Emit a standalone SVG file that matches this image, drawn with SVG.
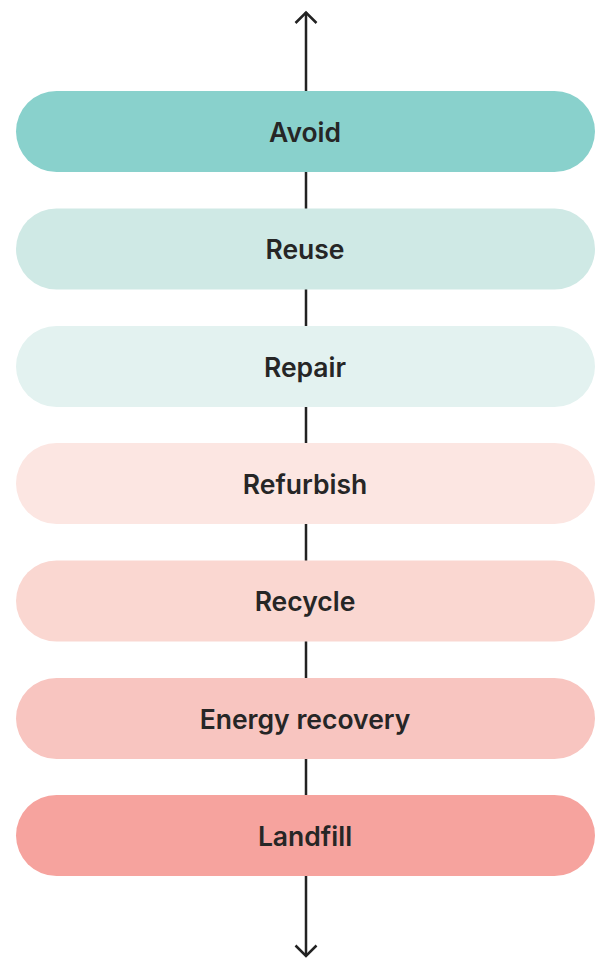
<svg xmlns="http://www.w3.org/2000/svg" width="595" height="958" viewBox="0 0 595 958">
<style>
.pill rect{stroke:none}
.lbl{font-family:Inter,"Noto Sans","Liberation Sans",sans-serif;font-weight:600;font-size:26.5px;fill:#262626;text-anchor:middle}
.conn{stroke:#222;stroke-width:2.5;fill:none}
</style>
<rect width="595" height="958" fill="#fff"/>
<g id="connectors">
<line class="conn" x1="306" y1="12" x2="306" y2="956"/>
<path d="M295.5,23 L306,12.5 L316.5,23" class="conn"/>
<path d="M295.5,945.5 L306,956 L316.5,945.5" class="conn"/>
</g>
<g id="avoid" class="pill"><rect x="16" y="91" width="579" height="81" rx="40.5" fill="#89D1CC"/><text class="lbl" x="305" y="141.5">Avoid</text></g>
<g id="reuse" class="pill"><rect x="16" y="208.5" width="579" height="81" rx="40.5" fill="#CFE9E5"/><text class="lbl" x="305" y="259">Reuse</text></g>
<g id="repair" class="pill"><rect x="16" y="326" width="579" height="81" rx="40.5" fill="#E3F2F0"/><text class="lbl" x="305" y="376.5">Repair</text></g>
<g id="refurbish" class="pill"><rect x="16" y="443" width="579" height="81" rx="40.5" fill="#FCE6E2"/><text class="lbl" x="305" y="493.5">Refurbish</text></g>
<g id="recycle" class="pill"><rect x="16" y="560.5" width="579" height="81" rx="40.5" fill="#FAD7D1"/><text class="lbl" x="305" y="611">Recycle</text></g>
<g id="energy" class="pill"><rect x="16" y="678" width="579" height="81" rx="40.5" fill="#F8C5C0"/><text class="lbl" x="305" y="728.5">Energy recovery</text></g>
<g id="landfill" class="pill"><rect x="16" y="795" width="579" height="81" rx="40.5" fill="#F6A39E"/><text class="lbl" x="305" y="845.5">Landfill</text></g>
</svg>
